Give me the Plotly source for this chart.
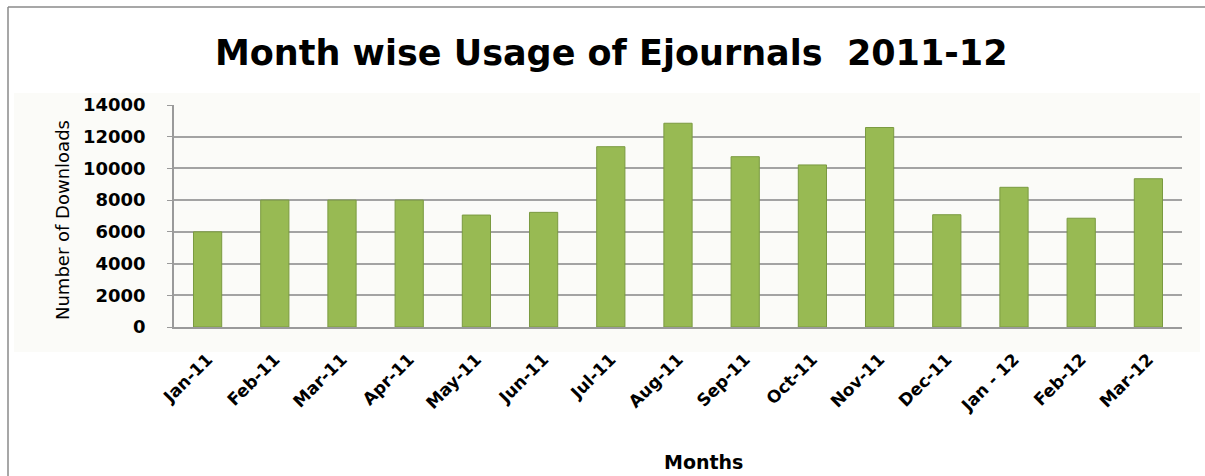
import plotly.graph_objects as go

months = ["Jan-11", "Feb-11", "Mar-11", "Apr-11", "May-11", "Jun-11", "Jul-11",
          "Aug-11", "Sep-11", "Oct-11", "Nov-11", "Dec-11", "Jan - 12", "Feb-12", "Mar-12"]
downloads = [6000, 8000, 8000, 8000, 7060, 7230, 11370, 12850, 10740, 10220,
             12580, 7080, 8810, 6860, 9350]
y_ticks = [0, 2000, 4000, 6000, 8000, 10000, 12000, 14000]

W, H = 1205, 476
L, R, T, B = 174, 23, 105, 149
pw, ph = W - L - R, H - T - B


def px(x):
    return (x - L) / pw


def py(y):
    return 1 - (y - T) / ph


fig = go.Figure()
fig.add_trace(go.Bar(
    x=months, y=downloads,
    marker=dict(color="#98ba53", line=dict(color="#7a9a40", width=1)),
    hoverinfo="x+y",
))

shapes = [
    # faint chart-area background
    dict(type="rect", xref="paper", yref="paper", x0=px(14), x1=px(1200),
         y0=py(352), y1=py(93), fillcolor="#fbfbf8", line=dict(width=0), layer="below"),
    # outer frame (left and top)
    dict(type="line", xref="paper", yref="paper", x0=px(8), x1=px(8),
         y0=py(480), y1=py(7), line=dict(color="#8a8a8a", width=1.5)),
    dict(type="line", xref="paper", yref="paper", x0=px(8), x1=px(1210),
         y0=py(7), y1=py(7), line=dict(color="#8a8a8a", width=1.5)),
]

annotations = [
    dict(text="Month wise Usage of Ejournals\u00a0 2011-12", xref="paper", yref="paper",
         x=px(611), y=py(53), xanchor="center", yanchor="middle", showarrow=False,
         font=dict(family="DejaVu Sans", size=35, color="#000000", weight="bold")),
    dict(text="Number of Downloads", xref="paper", yref="paper",
         x=px(62), y=py(220), xanchor="center", yanchor="middle", showarrow=False,
         textangle=-90, font=dict(family="DejaVu Sans", size=18, color="#000000")),
    dict(text="<b>Months</b>", xref="paper", yref="paper",
         x=px(703), y=py(462), xanchor="center", yanchor="middle", showarrow=False,
         font=dict(family="DejaVu Sans", size=19, color="#000000")),
]

fig.update_layout(
    width=W, height=H,
    margin=dict(l=L, r=R, t=T, b=B, pad=0),
    paper_bgcolor="#ffffff",
    plot_bgcolor="#f3f5ea",
    bargap=0.58,
    showlegend=False,
    shapes=shapes,
    annotations=annotations,
    xaxis=dict(
        type="category",
        tickangle=-45,
        tickfont=dict(family="DejaVu Sans", size=17, color="#000000", weight="bold"),
        showgrid=False,
        showline=True, linecolor="#9a9a9a", linewidth=1.5,
        ticks="", ticklabelstandoff=14,
        fixedrange=True,
    ),
    yaxis=dict(
        range=[0, 14000],
        tickvals=y_ticks,
        ticktext=[str(v) for v in y_ticks],
        tickfont=dict(family="DejaVu Sans", size=18, color="#000000", weight="bold"),
        showgrid=True, gridcolor="#a3a3a3", gridwidth=1.5,
        showline=True, linecolor="#9a9a9a", linewidth=1.5,
        ticks="outside", ticklen=5, tickcolor="#9a9a9a",
        ticklabelstandoff=18,
        zeroline=False,
        fixedrange=True,
    ),
)

fig.write_html(
    "out.html",
    config={"displayModeBar": False},
    post_script="document.body.style.margin='0';document.body.style.overflow='hidden';",
)
